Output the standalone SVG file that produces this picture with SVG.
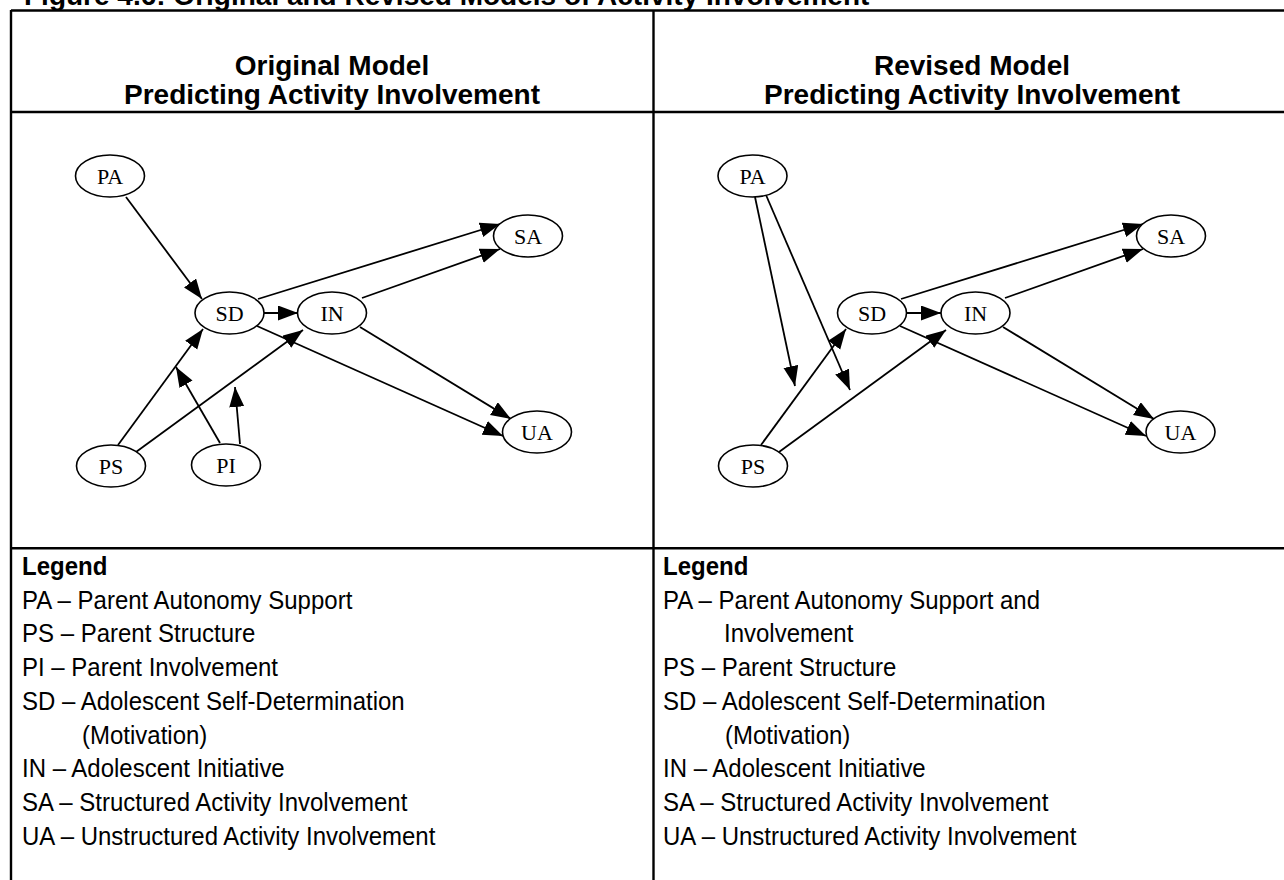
<svg xmlns="http://www.w3.org/2000/svg" width="1284" height="880" viewBox="0 0 1284 880">
  <defs>
    <marker id="arrow" markerUnits="userSpaceOnUse" markerWidth="22" markerHeight="16" refX="20" refY="7.5" orient="auto">
      <path d="M0,0 L20,7.5 L0,15 z" fill="#000"/>
    </marker>
    <style>
      .grid { stroke: #000; stroke-width: 2.4; fill: none; }
      .node ellipse { fill: #fff; stroke: #000; stroke-width: 1.6; }
      .node text { font-family: "Liberation Serif", "Times New Roman", serif; font-size: 22px; text-anchor: middle; fill: #000; }
      .edges line { stroke: #000; stroke-width: 1.8; marker-end: url(#arrow); }
      .title { font-family: "Liberation Sans", Arial, sans-serif; font-weight: bold; font-size: 28px; fill: #000; }
      .head { font-family: "Liberation Sans", Arial, sans-serif; font-weight: bold; font-size: 28px; text-anchor: middle; fill: #000; }
      .legend { font-family: "Liberation Sans", Arial, sans-serif; font-size: 24px; fill: #000; }
      .legend .lh { font-weight: bold; }
    </style>
  </defs>

  <rect width="1284" height="880" fill="#fff"/>

  <!-- caption, partly above the page edge -->
  <text class="title" x="24" y="5">Figure 4.6: Original and Revised Models of Activity Involvement</text>

  <!-- table rules -->
  <g id="table">
    <line class="grid" x1="11" y1="10.5" x2="1290" y2="10.5"/>
    <line class="grid" x1="11" y1="10" x2="11" y2="880"/>
    <line class="grid" x1="653.5" y1="10" x2="653.5" y2="880"/>
    <line class="grid" x1="11" y1="112" x2="1290" y2="112"/>
    <line class="grid" x1="11" y1="548.3" x2="1290" y2="548.3"/>
  </g>

  <!-- column headings -->
  <g id="headings">
    <text class="head" x="332" y="75">Original Model</text>
    <text class="head" x="332" y="104">Predicting Activity Involvement</text>
    <text class="head" x="972" y="75">Revised Model</text>
    <text class="head" x="972" y="104">Predicting Activity Involvement</text>
  </g>

  <!-- connectors -->
  <g id="connectors" class="edges">
    <!-- original model -->
    <line x1="126" y1="197" x2="202" y2="299"/>
    <line x1="264" y1="313" x2="298" y2="313"/>
    <line x1="258" y1="299" x2="500" y2="224"/>
    <line x1="362" y1="298" x2="500" y2="249"/>
    <line x1="360" y1="327" x2="511" y2="419"/>
    <line x1="257" y1="326" x2="503" y2="436"/>
    <line x1="118" y1="445" x2="203" y2="329"/>
    <line x1="136" y1="452" x2="303" y2="330"/>
    <line x1="220" y1="443" x2="176" y2="367"/>
    <line x1="240" y1="444" x2="235" y2="387"/>
    <!-- revised model -->
    <line x1="755" y1="197" x2="795" y2="386"/>
    <line x1="766" y1="195" x2="850" y2="390"/>
    <line x1="907" y1="313" x2="941" y2="313"/>
    <line x1="901" y1="299" x2="1143" y2="224"/>
    <line x1="1005" y1="298" x2="1143" y2="249"/>
    <line x1="1003" y1="327" x2="1154" y2="419"/>
    <line x1="900" y1="326" x2="1146" y2="436"/>
    <line x1="761" y1="445" x2="846" y2="329"/>
    <line x1="779" y1="452" x2="946" y2="330"/>
  </g>

  <!-- original model nodes -->
  <g id="o-PA" class="node"><ellipse cx="110" cy="176" rx="34.5" ry="21"/><text x="110" y="183.5">PA</text></g>
  <g id="o-SD" class="node"><ellipse cx="229.5" cy="313" rx="34.5" ry="21"/><text x="229.5" y="320.5">SD</text></g>
  <g id="o-IN" class="node"><ellipse cx="332" cy="313" rx="34.5" ry="21"/><text x="332" y="320.5">IN</text></g>
  <g id="o-SA" class="node"><ellipse cx="528" cy="236" rx="34.5" ry="21"/><text x="528" y="243.5">SA</text></g>
  <g id="o-UA" class="node"><ellipse cx="537" cy="432" rx="34.5" ry="21"/><text x="537" y="439.5">UA</text></g>
  <g id="o-PS" class="node"><ellipse cx="111" cy="466" rx="34.5" ry="21"/><text x="111" y="473.5">PS</text></g>
  <g id="o-PI" class="node"><ellipse cx="226" cy="465" rx="34.5" ry="21"/><text x="226" y="472.5">PI</text></g>

  <!-- revised model nodes -->
  <g id="r-PA" class="node"><ellipse cx="752.5" cy="176" rx="34.5" ry="21"/><text x="752.5" y="183.5">PA</text></g>
  <g id="r-SD" class="node"><ellipse cx="872" cy="313" rx="34.5" ry="21"/><text x="872" y="320.5">SD</text></g>
  <g id="r-IN" class="node"><ellipse cx="975.5" cy="313" rx="34.5" ry="21"/><text x="975.5" y="320.5">IN</text></g>
  <g id="r-SA" class="node"><ellipse cx="1171" cy="236" rx="34.5" ry="21"/><text x="1171" y="243.5">SA</text></g>
  <g id="r-UA" class="node"><ellipse cx="1180.5" cy="432" rx="34.5" ry="21"/><text x="1180.5" y="439.5">UA</text></g>
  <g id="r-PS" class="node"><ellipse cx="753" cy="466" rx="34.5" ry="21"/><text x="753" y="473.5">PS</text></g>

  <!-- legends: glyphs are set slightly taller than wide -->
  <g id="legend-original" class="legend" transform="translate(0,575) scale(1,1.1)">
    <text class="lh" x="22" y="0">Legend</text>
    <text x="22" y="30.9">PA – Parent Autonomy Support</text>
    <text x="22" y="61.36">PS – Parent Structure</text>
    <text x="22" y="92.27">PI – Parent Involvement</text>
    <text x="22" y="122.73">SD – Adolescent Self-Determination</text>
    <text x="82" y="153.64">(Motivation)</text>
    <text x="22" y="184.09">IN – Adolescent Initiative</text>
    <text x="22" y="215">SA – Structured Activity Involvement</text>
    <text x="22" y="245.91">UA – Unstructured Activity Involvement</text>
  </g>
  <g id="legend-revised" class="legend" transform="translate(0,575) scale(1,1.1)">
    <text class="lh" x="663" y="0">Legend</text>
    <text x="663" y="30.9">PA – Parent Autonomy Support and</text>
    <text x="724" y="61.36">Involvement</text>
    <text x="663" y="92.27">PS – Parent Structure</text>
    <text x="663" y="122.73">SD – Adolescent Self-Determination</text>
    <text x="725" y="153.64">(Motivation)</text>
    <text x="663" y="184.09">IN – Adolescent Initiative</text>
    <text x="663" y="215">SA – Structured Activity Involvement</text>
    <text x="663" y="245.91">UA – Unstructured Activity Involvement</text>
  </g>
</svg>
